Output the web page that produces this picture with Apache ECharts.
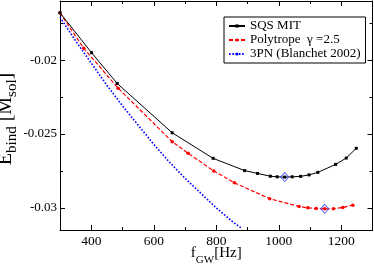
<!DOCTYPE html>
<html><head><meta charset="utf-8">
<script src="https://cdn.jsdelivr.net/npm/echarts@6/dist/echarts.min.js"></script>
<style>html,body{margin:0;padding:0;background:#fff}#c{width:374px;height:266px}</style>
</head><body><div id="c"></div>
<script>
// ---- data ----
const xTicks = [400, 600, 800, 1000, 1200];
const xMinorTicks = [500, 700, 900, 1100];
const yTicks = [-0.03, -0.025, -0.02];
const yMinorTicks = [-0.0275, -0.0225, -0.0175];

const seriesNames = ['SQS MIT', 'Polytrope  \u03b3 =2.5', '3PN (Blanchet 2002)'];

const sqsFreq  = [300, 401, 483, 659, 790, 891, 932, 973, 995, 1019, 1043, 1070, 1097, 1125, 1182, 1216, 1248];
const sqsEbind = [-0.0168, -0.0195, -0.02158, -0.02492, -0.02665, -0.02748, -0.02767, -0.02786, -0.0279, -0.02792, -0.0279, -0.02787, -0.02777, -0.0276, -0.02706, -0.02663, -0.02597];

const polyFreq  = [300, 376, 486, 659, 710, 792, 858, 971, 1065, 1093, 1120, 1147, 1175, 1205, 1237];
const polyEbind = [-0.0168, -0.0192, -0.0219, -0.02552, -0.02631, -0.0275, -0.02831, -0.02938, -0.02991, -0.03, -0.03005, -0.03007, -0.03006, -0.02998, -0.02982];

const pnFreq  = [300, 350, 400, 450, 500, 550, 600, 650, 700, 750, 800, 850, 882];
const pnEbind = [-0.0171, -0.0187, -0.0202, -0.0217, -0.0231, -0.0244, -0.0257, -0.0269, -0.0280, -0.0290, -0.0300, -0.0309, -0.0314];

// ---- helpers ----
const FONT = 'Liberation Serif';
const zip = (xs, ys) => xs.map((x, i) => [x, ys[i]]);
const minPoint = (xs, ys) => { let k = 0; ys.forEach((v, i) => { if (v < ys[k]) k = i; }); return [xs[k], ys[k]]; };

const X_MIN = 300, X_MAX = 1300, Y_MIN = -0.0315, Y_MAX = -0.016;
const gridBox = { left: 60, right: 1.5, top: 1, bottom: 36, containLabel: false, outerBoundsMode: 'none' };

function xAx(grid, pos, ticks, len, withLine, extra) {
  return Object.assign({
    type: 'value', gridIndex: grid, position: pos, min: X_MIN, max: X_MAX,
    axisLine: { show: withLine, onZero: false, lineStyle: { color: '#000', width: 1 } },
    axisTick: { show: true, inside: true, length: len, customValues: ticks, lineStyle: { color: '#000', width: 1 } },
    axisLabel: { show: false }, splitLine: { show: false }
  }, extra || {});
}
function yAx(grid, pos, ticks, len, withLine, extra) {
  return Object.assign({
    type: 'value', gridIndex: grid, position: pos, min: Y_MIN, max: Y_MAX,
    axisLine: { show: withLine, onZero: false, lineStyle: { color: '#000', width: 1 } },
    axisTick: { show: true, inside: true, length: len, customValues: ticks, lineStyle: { color: '#000', width: 1 } },
    axisLabel: { show: false }, splitLine: { show: false }
  }, extra || {});
}

const chart = echarts.init(document.getElementById('c'), null, { renderer: 'canvas' });
chart.setOption({
  animation: false,
  backgroundColor: '#fff',
  textStyle: { fontFamily: FONT },
  grid: [Object.assign({}, gridBox), Object.assign({}, gridBox)],
  legend: {
    data: seriesNames, orient: 'vertical', left: 224, top: 17,
    itemWidth: 16, itemHeight: 4, itemGap: 0,
    padding: [2, 5, 2, 4], borderColor: '#000', borderWidth: 1, borderRadius: 0,
    backgroundColor: '#fff',
    textStyle: { fontFamily: FONT, fontSize: 13, color: '#000', lineHeight: 14 }
  },
  xAxis: [
    xAx(0, 'bottom', xTicks, 5, true, {
      axisLabel: { show: true, customValues: xTicks, formatter: v => String(v), fontFamily: FONT, fontSize: 13.5, color: '#000', margin: 4 },
      name: '{m|f}{s|GW}{m|[Hz]}', nameLocation: 'middle', nameGap: 10, nameMoveOverlap: false,
      nameTextStyle: { fontFamily: FONT, color: '#000', fontSize: 15, lineHeight: 26,
        rich: { m: { fontFamily: FONT, fontSize: 15, lineHeight: 26, color: '#000' },
                s: { fontFamily: FONT, fontSize: 11, lineHeight: 11, verticalAlign: 'bottom', color: '#000' } } }
    }),
    xAx(0, 'top', xTicks, 5, true),
    xAx(1, 'bottom', xMinorTicks, 3, false),
    xAx(1, 'top', xMinorTicks, 3, false)
  ],
  yAxis: [
    yAx(0, 'left', yTicks, 5, true, {
      axisLabel: { show: true, customValues: yTicks, formatter: v => String(+v.toFixed(4)), fontFamily: FONT, fontSize: 13, color: '#000', margin: 3 },
      name: '{m|E}{s|bind}{m| [M}{s|sol}{m|]}', nameLocation: 'middle', nameRotate: 90, nameGap: 40, nameMoveOverlap: false,
      nameTextStyle: { fontFamily: FONT, color: '#000', fontSize: 20, lineHeight: 28, padding: [0, 7, 0, 0],
        rich: { m: { fontFamily: FONT, fontSize: 20, lineHeight: 28, color: '#000' },
                s: { fontFamily: FONT, fontSize: 15, lineHeight: 15, verticalAlign: 'bottom', color: '#000' } } }
    }),
    yAx(0, 'right', yTicks, 5, true),
    yAx(1, 'left', yMinorTicks, 3, false),
    yAx(1, 'right', yMinorTicks, 3, false)
  ],
  series: [
    {
      name: seriesNames[0], type: 'line', xAxisIndex: 0, yAxisIndex: 0,
      data: zip(sqsFreq, sqsEbind), color: '#000',
      symbol: 'rect', symbolSize: 3, showSymbol: true,
      lineStyle: { color: '#000', width: 1 }, itemStyle: { color: '#000' }, z: 4
    },
    {
      name: seriesNames[1], type: 'line', xAxisIndex: 0, yAxisIndex: 0,
      data: zip(polyFreq, polyEbind), color: '#ff0000',
      symbol: 'circle', symbolSize: 3.5, showSymbol: true,
      lineStyle: { color: '#ff0000', width: 1.2, type: [4, 2] }, itemStyle: { color: '#ff0000' }, z: 3
    },
    {
      name: seriesNames[2], type: 'line', xAxisIndex: 0, yAxisIndex: 0,
      data: zip(pnFreq, pnEbind), color: '#0000ff',
      symbol: 'none', showSymbol: false, smooth: false,
      lineStyle: { color: '#0000ff', width: 1.6, type: [1.6, 1.7], cap: 'butt' }, z: 2
    },
    {
      type: 'scatter', xAxisIndex: 0, yAxisIndex: 0,
      data: [minPoint(sqsFreq, sqsEbind), minPoint(polyFreq, polyEbind)],
      symbol: 'diamond', symbolSize: [8, 9],
      itemStyle: { color: 'rgba(0,0,0,0)', borderColor: '#3344ff', borderWidth: 1 }, z: 5, silent: true
    }
  ]
});
</script></body></html>
